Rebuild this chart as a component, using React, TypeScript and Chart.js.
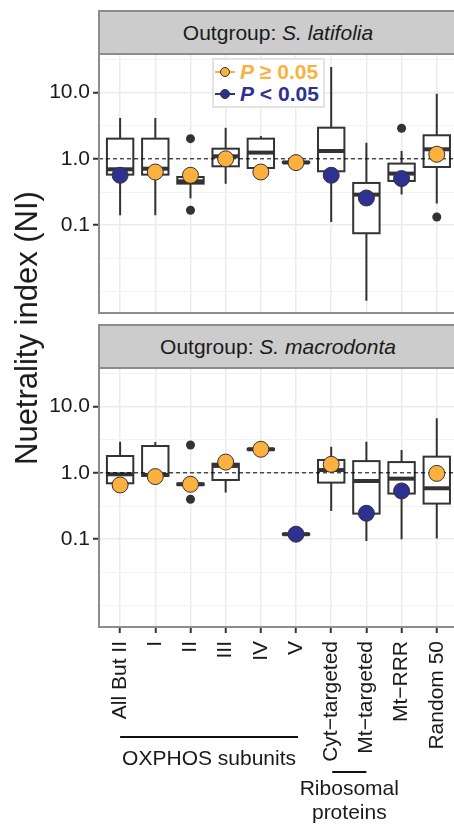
import React, { useEffect, useRef } from 'react';
import { Chart, registerables } from 'chart.js';

Chart.register(...registerables);

const FONT = '"Liberation Sans", Arial, Helvetica, sans-serif';
const ORANGE = '#FBB040';
const NAVY = '#2E3192';
const DARK = '#333333';

const CATEGORIES = ['All But II', 'I', 'II', 'III', 'IV', 'V', 'Cyt\u2212targeted', 'Mt\u2212targeted', 'Mt\u2212RRR', 'Random 50'];

const Y_MIN = 0.004775;
const Y_MAX = 37.8;
const MAJOR_TICKS = [0.1, 1, 10];
const MAJOR_LABELS = ['0.1', '1.0', '10.0'];
const MINOR_TICKS = [0.01, 0.031623, 0.31623, 3.1623, 31.623];

// Panel 1: Outgroup S. latifolia
const LAT_WLO = [0.141, 0.141, 0.254, 0.423, 0.727, 0.86, 0.112, 0.0073, 0.289, 0.212];
const LAT_Q1 = [0.578, 0.578, 0.423, 0.771, 0.727, 0.87, 0.649, 0.0758, 0.464, 0.753];
const LAT_MED = [0.695, 0.71, 0.458, 1.09, 1.24, 0.88, 1.31, 0.289, 0.599, 1.39];
const LAT_Q3 = [2.01, 2.01, 0.532, 1.42, 2.01, 0.9, 2.94, 0.433, 0.847, 2.26];
const LAT_WHI = [4.1, 4.1, 0.532, 2.94, 2.2, 0.92, 24, 1.75, 1.31, 9.55];
const LAT_OUT_CAT = [2, 2, 8, 9];
const LAT_OUT_VAL = [2.01, 0.168, 2.88, 0.133];
const LAT_NI = [0.565, 0.633, 0.565, 1.0, 0.633, 0.877, 0.565, 0.257, 0.504, 1.17];
const LAT_SIG = [true, false, false, false, false, false, true, true, true, false];

// Panel 2: Outgroup S. macrodonta
const MAC_WLO = [0.68, 0.9, 0.655, 0.504, 2.2, 0.115, 0.267, 0.094, 0.1, 0.103];
const MAC_Q1 = [0.695, 0.9, 0.655, 0.78, 2.22, 0.117, 0.712, 0.243, 0.487, 0.344];
const MAC_MED = [0.95, 0.93, 0.672, 1.27, 2.26, 0.119, 1.1, 0.753, 0.817, 0.585];
const MAC_Q3 = [1.79, 2.53, 0.69, 1.37, 2.3, 0.121, 1.56, 1.5, 1.45, 1.75];
const MAC_WHI = [2.94, 2.9, 0.69, 1.37, 2.32, 0.123, 2.47, 2.94, 2.2, 6.6];
const MAC_OUT_CAT = [2, 2];
const MAC_OUT_VAL = [2.62, 0.4];
const MAC_NI = [0.656, 0.877, 0.672, 1.45, 2.26, 0.119, 1.34, 0.246, 0.533, 0.98];
const MAC_SIG = [false, false, false, false, false, true, false, true, true, false];

const OXPHOS_RANGE = [0, 5];
const RIBO_RANGE = [6, 7];

type Stats = {
  wlo: number[]; q1: number[]; med: number[]; q3: number[]; whi: number[];
  outCat: number[]; outVal: number[]; ni: number[]; sig: boolean[];
};

const isMajor = (v: number) => MAJOR_TICKS.some((m) => Math.abs(m - v) < 1e-9);

function boxPlugin(s: Stats) {
  return {
    id: 'boxes',
    beforeDatasetsDraw(chart: any) {
      const { ctx, chartArea } = chart;
      const x = chart.scales.x;
      const y = chart.scales.y;
      const hw = 0.375 * (x.getPixelForValue(1) - x.getPixelForValue(0));
      ctx.save();
      ctx.beginPath();
      ctx.rect(chartArea.left, chartArea.top, chartArea.right - chartArea.left, chartArea.bottom - chartArea.top);
      ctx.clip();
      ctx.strokeStyle = DARK;
      for (let i = 0; i < CATEGORIES.length; i++) {
        const cx = x.getPixelForValue(i);
        const yWlo = y.getPixelForValue(s.wlo[i]);
        const yQ1 = y.getPixelForValue(s.q1[i]);
        const yMed = y.getPixelForValue(s.med[i]);
        const yQ3 = y.getPixelForValue(s.q3[i]);
        const yWhi = y.getPixelForValue(s.whi[i]);
        ctx.lineWidth = 2;
        ctx.beginPath();
        ctx.moveTo(cx, yWhi);
        ctx.lineTo(cx, yQ3);
        ctx.moveTo(cx, yQ1);
        ctx.lineTo(cx, yWlo);
        ctx.stroke();
        ctx.fillStyle = '#ffffff';
        ctx.fillRect(cx - hw, yQ3, 2 * hw, yQ1 - yQ3);
        ctx.strokeRect(cx - hw, yQ3, 2 * hw, yQ1 - yQ3);
        ctx.lineWidth = 4;
        ctx.beginPath();
        ctx.moveTo(cx - hw, yMed);
        ctx.lineTo(cx + hw, yMed);
        ctx.stroke();
      }
      ctx.restore();
    },
  };
}

const borderPlugin = {
  id: 'panelBorder',
  afterDraw(chart: any) {
    const { ctx, chartArea } = chart;
    ctx.save();
    ctx.strokeStyle = '#8C8C8C';
    ctx.lineWidth = 2;
    ctx.beginPath();
    ctx.moveTo(chartArea.right + 5, chartArea.top);
    ctx.lineTo(chartArea.left, chartArea.top);
    ctx.lineTo(chartArea.left, chartArea.bottom);
    ctx.lineTo(chartArea.right + 5, chartArea.bottom);
    ctx.stroke();
    ctx.restore();
  },
};

const groupPlugin = {
  id: 'groups',
  afterDraw(chart: any) {
    const { ctx, chartArea } = chart;
    const x = chart.scales.x;
    const b = chartArea.bottom;
    ctx.save();
    ctx.strokeStyle = '#111';
    ctx.fillStyle = '#1a1a1a';
    ctx.lineWidth = 2;
    ctx.font = `21px ${FONT}`;
    ctx.textAlign = 'center';
    ctx.textBaseline = 'alphabetic';
    const ox0 = x.getPixelForValue(OXPHOS_RANGE[0]);
    const ox1 = x.getPixelForValue(OXPHOS_RANGE[1]) + 2;
    ctx.beginPath();
    ctx.moveTo(ox0, b + 110);
    ctx.lineTo(ox1, b + 110);
    ctx.stroke();
    ctx.fillText('OXPHOS subunits', (ox0 + ox1) / 2, b + 138);
    const r0 = x.getPixelForValue(RIBO_RANGE[0]) + 1;
    const r1 = x.getPixelForValue(RIBO_RANGE[1]);
    ctx.beginPath();
    ctx.moveTo(r0, b + 145);
    ctx.lineTo(r1, b + 145);
    ctx.stroke();
    ctx.fillText('Ribosomal', (r0 + r1) / 2, b + 168);
    ctx.fillText('proteins', (r0 + r1) / 2, b + 192);
    ctx.restore();
  },
};

function makeConfig(s: Stats, showX: boolean, padTop: number, xHeight: number): any {
  const plugins: any[] = [boxPlugin(s), borderPlugin];
  if (showX) plugins.push(groupPlugin);
  return {
    type: 'scatter',
    data: {
      datasets: [
        {
          label: 'NI',
          data: s.ni.map((v, i) => ({ x: i, y: v })),
          pointRadius: 8,
          pointBackgroundColor: s.sig.map((g) => (g ? NAVY : ORANGE)),
          pointBorderColor: DARK,
          pointBorderWidth: 1,
          order: 0,
        },
        {
          label: 'outliers',
          data: s.outCat.map((c, i) => ({ x: c, y: s.outVal[i] })),
          pointRadius: 4.5,
          pointBackgroundColor: DARK,
          pointBorderColor: DARK,
          pointBorderWidth: 0,
          order: 1,
        },
        {
          label: 'neutral',
          data: [{ x: -0.6, y: 1 }, { x: 9.49, y: 1 }],
          showLine: true,
          borderColor: '#000',
          borderWidth: 1,
          borderDash: [4, 3],
          pointRadius: 0,
          order: 2,
        },
      ],
    },
    options: {
      responsive: false,
      animation: false,
      devicePixelRatio: 1,
      layout: { autoPadding: false, padding: { top: padTop, bottom: showX ? 0 : 7, left: 0, right: 0 } },
      plugins: { legend: { display: false }, tooltip: { enabled: false } },
      scales: {
        x: {
          type: 'linear',
          min: -0.6,
          max: 9.49,
          afterBuildTicks: (sc: any) => {
            sc.ticks = CATEGORIES.map((_, i) => ({ value: i }));
          },
          afterFit: (sc: any) => {
            sc.height = xHeight;
            sc.paddingLeft = 0;
            sc.paddingRight = 0;
            sc.paddingTop = 0;
            sc.paddingBottom = 0;
          },
          border: { display: false },
          grid: {
            color: '#EBEBEB',
            lineWidth: 1.5,
            drawTicks: showX,
            tickLength: 6,
            tickColor: DARK,
            tickWidth: 2,
          },
          ticks: {
            display: showX,
            autoSkip: false,
            minRotation: 90,
            maxRotation: 90,
            padding: 8,
            color: '#1a1a1a',
            font: { size: 21, family: FONT },
            callback: (v: number) => CATEGORIES[Math.round(v)] ?? '',
          },
        },
        y: {
          type: 'logarithmic',
          min: Y_MIN,
          max: Y_MAX,
          afterBuildTicks: (sc: any) => {
            sc.ticks = [...MINOR_TICKS, ...MAJOR_TICKS].sort((a, b) => a - b).map((v) => ({ value: v }));
          },
          afterFit: (sc: any) => {
            sc.width = 99;
            sc.paddingLeft = 0;
            sc.paddingRight = 0;
            sc.paddingTop = 0;
            sc.paddingBottom = 0;
          },
          border: { display: false },
          grid: {
            color: (c: any) => (c.tick && isMajor(c.tick.value) ? '#EBEBEB' : '#F3F3F3'),
            lineWidth: (c: any) => (c.tick && isMajor(c.tick.value) ? 1.5 : 1),
            tickLength: 6,
            tickColor: (c: any) => (c.tick && isMajor(c.tick.value) ? DARK : 'rgba(0,0,0,0)'),
            tickWidth: 2,
          },
          ticks: {
            autoSkip: false,
            padding: 3,
            color: '#1a1a1a',
            font: { size: 21, family: FONT },
            callback: (v: number) => {
              const k = MAJOR_TICKS.findIndex((m) => Math.abs(m - v) < 1e-9);
              return k >= 0 ? MAJOR_LABELS[k] : '';
            },
          },
        },
      },
    },
    plugins,
  };
}

function Panel({ stats, showX, top, height, padTop, xHeight }: { stats: Stats; showX: boolean; top: number; height: number; padTop: number; xHeight: number }) {
  const ref = useRef<HTMLCanvasElement | null>(null);
  useEffect(() => {
    if (!ref.current) return;
    const chart = new Chart(ref.current, makeConfig(stats, showX, padTop, xHeight));
    return () => chart.destroy();
  }, []);
  return (
    <canvas
      ref={ref}
      width={454}
      height={height}
      style={{ position: 'absolute', left: 0, top, width: 454, height }}
    />
  );
}

function Strip({ top, children }: { top: number; children: React.ReactNode }) {
  return (
    <div
      style={{
        position: 'absolute',
        left: 98,
        top,
        width: 360,
        height: 45,
        boxSizing: 'border-box',
        background: '#CCCCCC',
        border: '2px solid #8C8C8C',
        display: 'flex',
        alignItems: 'center',
        justifyContent: 'center',
        fontSize: 21,
        color: '#1a1a1a',
        whiteSpace: 'nowrap',
      }}
    >
      {children}
    </div>
  );
}

function LegendRow({ color, text, cy }: { color: string; text: string; cy: number }) {
  return (
    <>
      <div style={{ position: 'absolute', left: 1, top: cy - 1, width: 20, height: 2, background: color }} />
      <div
        style={{
          position: 'absolute',
          left: 6,
          top: cy - 5,
          width: 10,
          height: 10,
          boxSizing: 'border-box',
          borderRadius: '50%',
          background: color,
          border: `1px solid ${DARK}`,
        }}
      />
      <div
        style={{
          position: 'absolute',
          left: 26,
          top: cy - 13,
          height: 26,
          lineHeight: '26px',
          fontSize: 21,
          fontWeight: 'bold',
          color,
          whiteSpace: 'nowrap',
        }}
      >
        <span style={{ fontStyle: 'italic' }}>P</span>
        {text}
      </div>
    </>
  );
}

export default function App() {
  const lat: Stats = { wlo: LAT_WLO, q1: LAT_Q1, med: LAT_MED, q3: LAT_Q3, whi: LAT_WHI, outCat: LAT_OUT_CAT, outVal: LAT_OUT_VAL, ni: LAT_NI, sig: LAT_SIG };
  const mac: Stats = { wlo: MAC_WLO, q1: MAC_Q1, med: MAC_MED, q3: MAC_Q3, whi: MAC_WHI, outCat: MAC_OUT_CAT, outVal: MAC_OUT_VAL, ni: MAC_NI, sig: MAC_SIG };
  return (
    <div style={{ position: 'fixed', left: 0, top: 0, width: 454, height: 825, overflow: 'hidden', background: '#fff', fontFamily: FONT }}>
      <Panel stats={lat} showX={false} top={0} height={320} padTop={54} xHeight={0} />
      <Panel stats={mac} showX={true} top={320} height={505} padTop={48} xHeight={198} />
      <Strip top={10}>
        Outgroup:&nbsp;<i>S. latifolia</i>
      </Strip>
      <Strip top={324}>
        Outgroup:&nbsp;<i>S. macrodonta</i>
      </Strip>
      <div
        style={{
          position: 'absolute',
          left: 212,
          top: 58,
          width: 113,
          height: 50,
          boxSizing: 'border-box',
          border: '2px solid #E3E3E3',
          background: '#fff',
        }}
      >
        <LegendRow color={ORANGE} text={' \u2265 0.05'} cy={12} />
        <LegendRow color={NAVY} text={' < 0.05'} cy={34} />
      </div>
      <div
        style={{
          position: 'absolute',
          left: 27,
          top: 328,
          transform: 'translate(-50%, -50%) rotate(-90deg)',
          fontSize: 31,
          color: '#1a1a1a',
          whiteSpace: 'nowrap',
        }}
      >
        Nuetrality index (NI)
      </div>
    </div>
  );
}
